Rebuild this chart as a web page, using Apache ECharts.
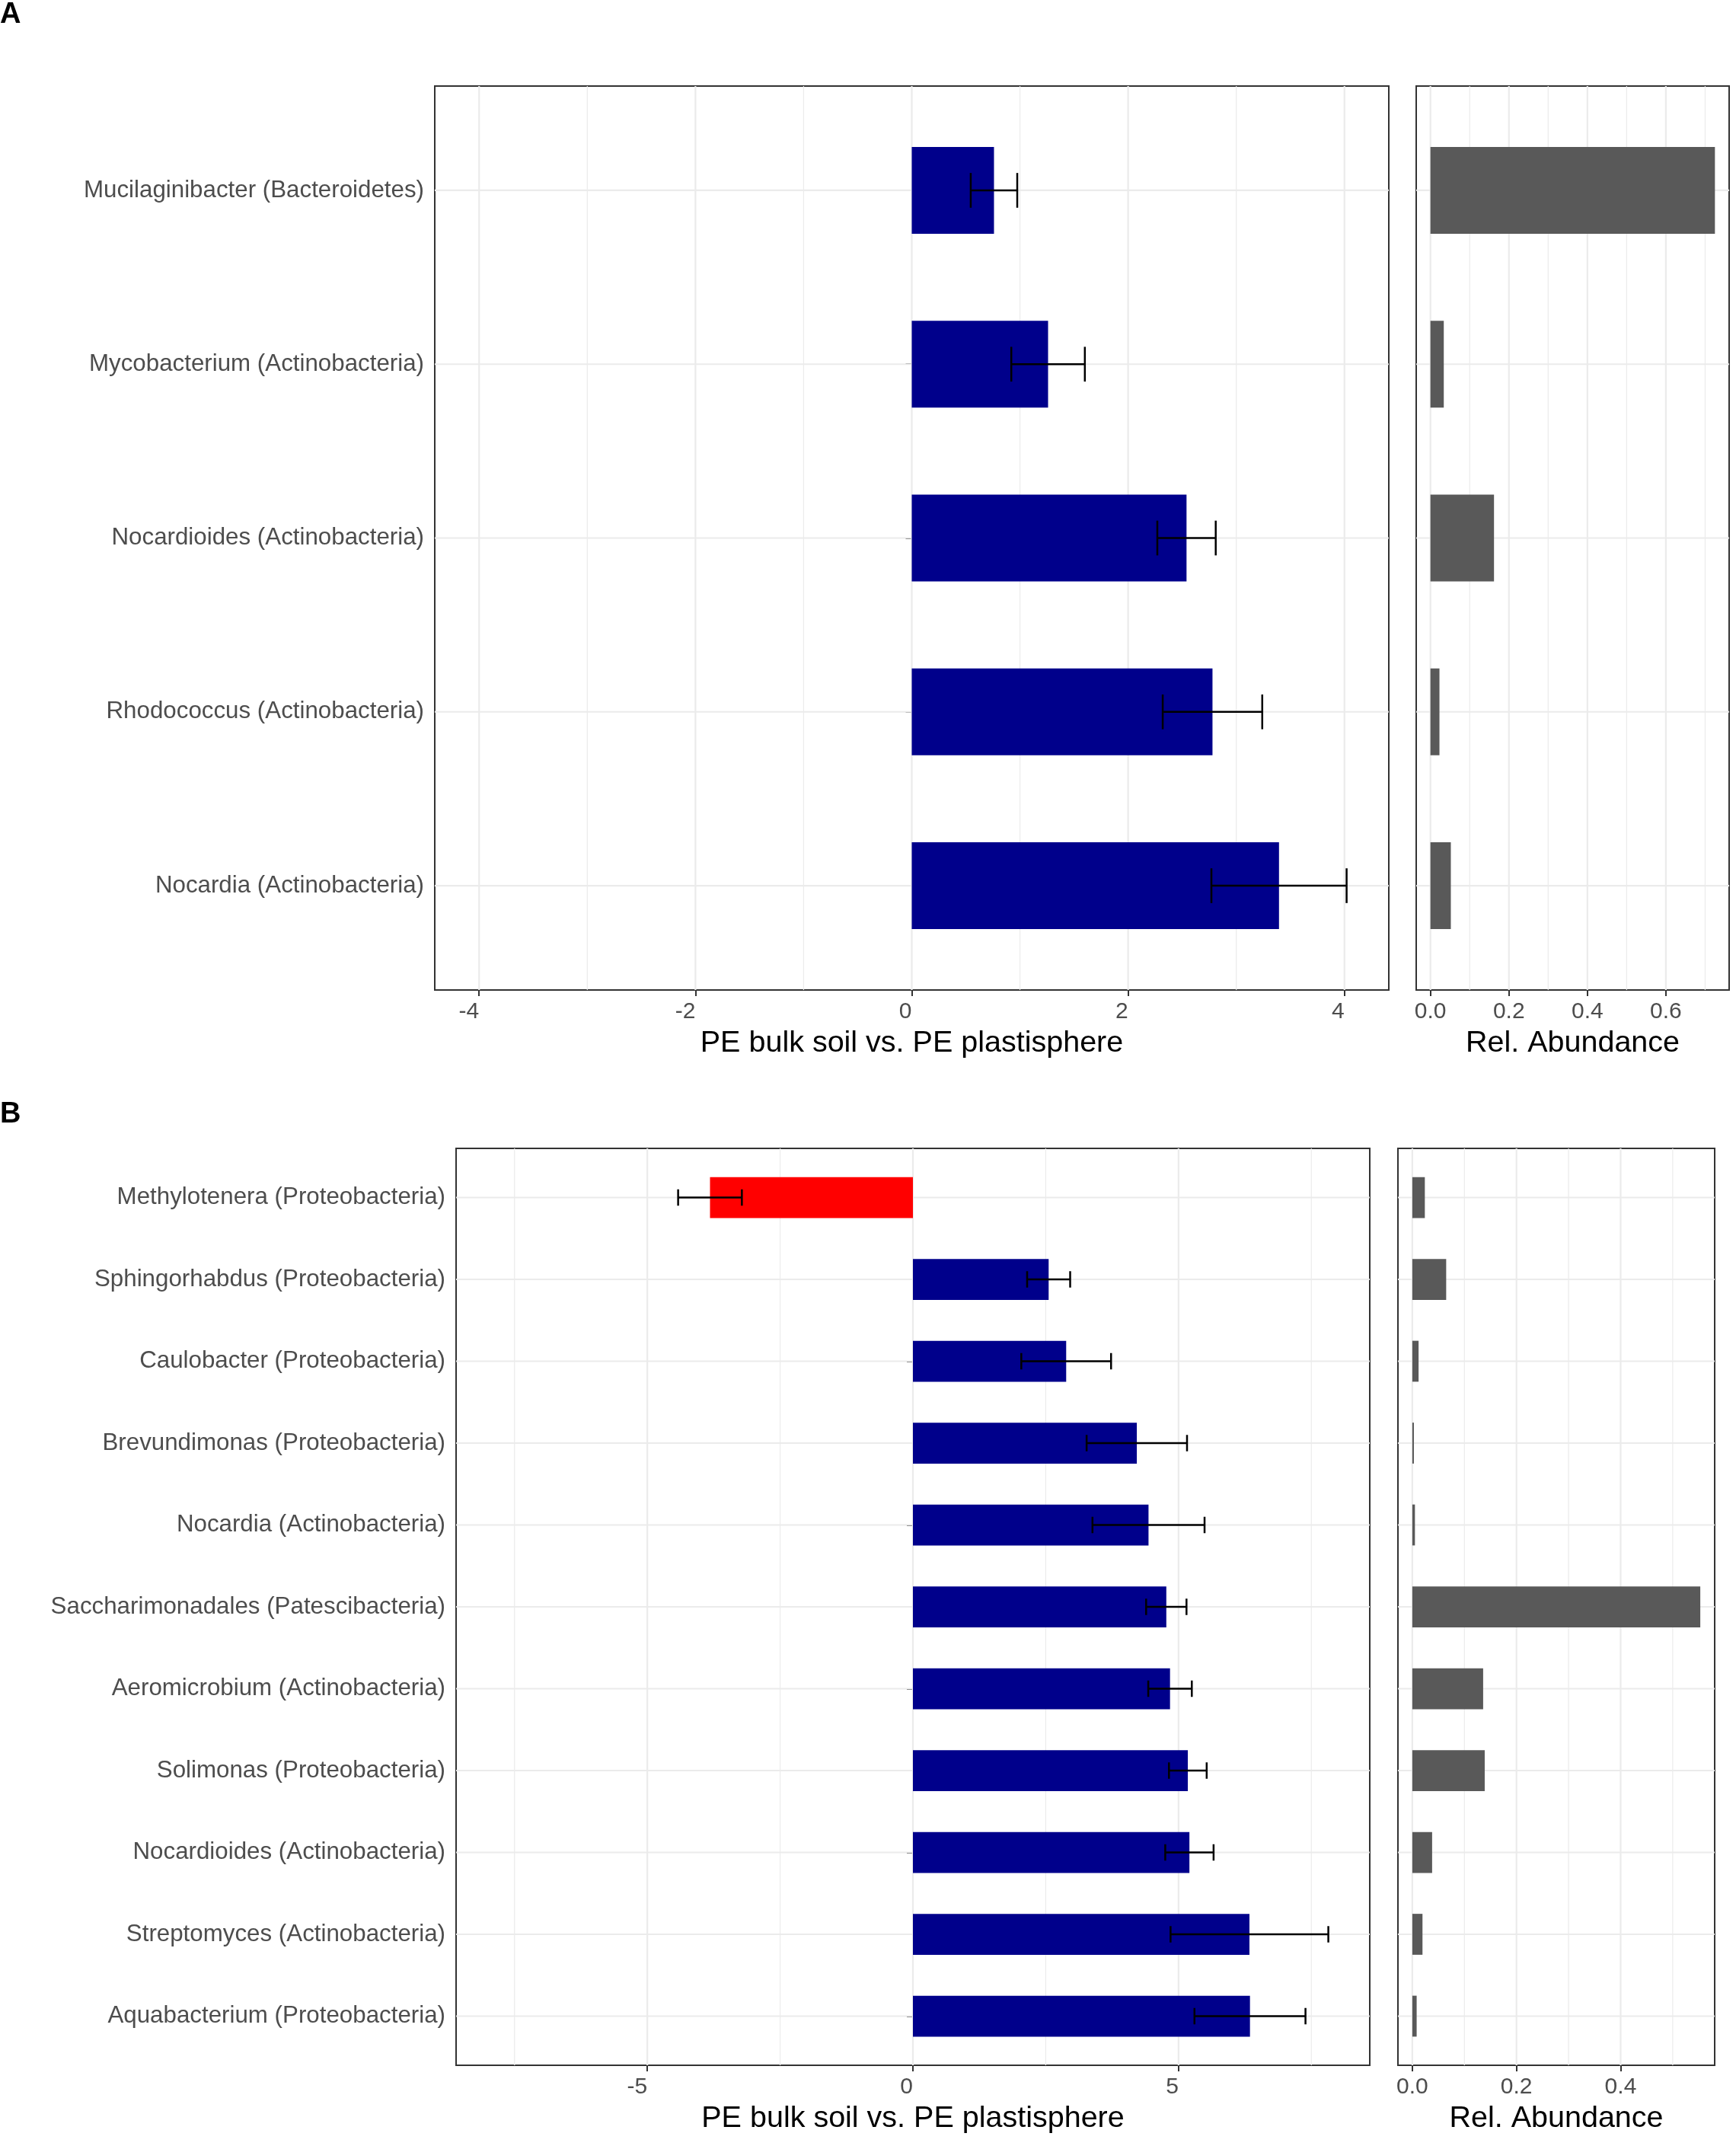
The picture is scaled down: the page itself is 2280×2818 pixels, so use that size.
<!DOCTYPE html>
<html>
<head>
<meta charset="utf-8">
<title>PE bulk soil vs. PE plastisphere</title>
<script src="https://cdn.jsdelivr.net/npm/echarts@6/dist/echarts.min.js"></script>
<style>
  html, body { margin: 0; padding: 0; background: #fff; }
  #chart { width: 2280px; height: 2818px; }
</style>
</head>
<body>
<div id="chart"></div>
<script>
// ---- panel A ----
const taxaA = [
  'Mucilaginibacter (Bacteroidetes)',
  'Mycobacterium (Actinobacteria)',
  'Nocardioides (Actinobacteria)',
  'Rhodococcus (Actinobacteria)',
  'Nocardia (Actinobacteria)'
];
const lfcA = [0.76, 1.26, 2.54, 2.78, 3.395];
const seA = [0.215, 0.34, 0.27, 0.46, 0.625];
const abundA = [0.725, 0.034, 0.162, 0.023, 0.052];

// ---- panel B ----
const taxaB = [
  'Methylotenera (Proteobacteria)',
  'Sphingorhabdus (Proteobacteria)',
  'Caulobacter (Proteobacteria)',
  'Brevundimonas (Proteobacteria)',
  'Nocardia (Actinobacteria)',
  'Saccharimonadales (Patescibacteria)',
  'Aeromicrobium (Actinobacteria)',
  'Solimonas (Proteobacteria)',
  'Nocardioides (Actinobacteria)',
  'Streptomyces (Actinobacteria)',
  'Aquabacterium (Proteobacteria)'
];
const lfcB = [-3.82, 2.555, 2.885, 4.215, 4.435, 4.77, 4.84, 5.175, 5.205, 6.335, 6.345];
const seB = [0.6, 0.405, 0.845, 0.945, 1.055, 0.38, 0.41, 0.355, 0.455, 1.485, 1.045];
const abundB = [0.024, 0.065, 0.012, 0.003, 0.005, 0.553, 0.136, 0.139, 0.038, 0.0195, 0.0083];

// ---- tick labels ----
const lfcTicksA = [-4, -2, 0, 2, 4];
const lfcMinorA = [-3, -1, 1, 3];
const lfcTicksB = [-5, 0, 5];
const lfcMinorB = [-7.5, -2.5, 2.5, 7.5];
const abTicksA = [0, 0.2, 0.4, 0.6];
const abMinorA = [0.1, 0.3, 0.5, 0.7];
const abTicksB = [0, 0.2, 0.4];
const abMinorB = [0.1, 0.3, 0.5];

const FONT = '"Liberation Sans", Arial, Helvetica, sans-serif';
const BAR_W = 0.5;
const CAP_W = 0.2;

const chart = echarts.init(document.getElementById('chart'));

const grids = [
  { left: 571, top: 113, width: 1253, height: 1187 },
  { left: 1860, top: 113, width: 411, height: 1187 },
  { left: 599, top: 1508, width: 1200, height: 1204 },
  { left: 1836, top: 1508, width: 416, height: 1204 }
].map(g => Object.assign(g, {
  show: true, backgroundColor: '#fff', borderColor: '#333333', borderWidth: 2
}));

function xAxisFor(gridIndex, min, max, ticks, fmt, title, align) {
  return {
    type: 'value', gridIndex, min, max,
    axisLine: { show: false },
    splitLine: { show: false },
    axisTick: { show: true, customValues: ticks, length: 8, lineStyle: { color: '#333333', width: 2 } },
    axisLabel: { customValues: ticks, formatter: fmt, align, color: '#4D4D4D', fontSize: 30, fontFamily: FONT, margin: 14 },
    name: title, nameLocation: 'middle', nameGap: 50,
    nameTextStyle: { color: '#000', fontSize: 39.5, fontFamily: FONT }
  };
}

function yAxisFor(gridIndex, names, withLabels) {
  const pos = names.map((_, i) => i + 1);
  return {
    type: 'value', gridIndex, min: 0.4, max: names.length + 0.6, inverse: true,
    axisLine: { show: false },
    splitLine: { show: false },
    axisTick: { show: withLabels, customValues: pos, length: 8, lineStyle: { color: '#333333', width: 2 } },
    axisLabel: {
      show: withLabels, customValues: pos,
      formatter: v => names[Math.round(v) - 1] || '',
      color: '#4D4D4D', fontSize: 31.3, fontFamily: FONT, margin: 14,
      padding: [7, 0, 0, 0]
    }
  };
}

// background grid lines, drawn through the axes
function gridLines(idx, majors, minors, nRows) {
  const data = [];
  majors.forEach(v => data.push([v, 1, 0]));
  minors.forEach(v => data.push([v, 1, 1]));
  for (let i = 1; i <= nRows; i++) data.push([0, i, 2]);
  return {
    type: 'custom', xAxisIndex: idx, yAxisIndex: idx, z: 1, silent: true,
    encode: { x: 0, y: 1 },
    data,
    renderItem(params, api) {
      const cs = params.coordSys;
      const kind = api.value(2);
      if (kind === 2) {
        const y = api.coord([0, api.value(1)])[1];
        return { type: 'line', shape: { x1: cs.x, y1: y, x2: cs.x + cs.width, y2: y },
          style: { stroke: '#EBEBEB', lineWidth: 2.2 } };
      }
      const x = api.coord([api.value(0), 1])[0];
      return { type: 'line', shape: { x1: x, y1: cs.y, x2: x, y2: cs.y + cs.height },
        style: { stroke: '#EBEBEB', lineWidth: kind === 0 ? 2.2 : 1.2 } };
    }
  };
}

function barSeries(idx, values, colorOf) {
  return {
    type: 'custom', xAxisIndex: idx, yAxisIndex: idx, z: 3,
    encode: { x: 0, y: 1 },
    data: values.map((v, i) => [v, i + 1]),
    renderItem(params, api) {
      const v = api.value(0), y = api.value(1);
      const a = api.coord([0, y]), b = api.coord([v, y]);
      const h = api.size([0, BAR_W])[1];
      return { type: 'rect',
        shape: { x: Math.min(a[0], b[0]), y: a[1] - h / 2, width: Math.abs(b[0] - a[0]), height: h },
        style: { fill: colorOf(v) } };
    }
  };
}

function errorSeries(idx, values, se) {
  return {
    type: 'custom', xAxisIndex: idx, yAxisIndex: idx, z: 4,
    encode: { x: [0, 1], y: 2 },
    data: values.map((v, i) => [v - se[i], v + se[i], i + 1]),
    renderItem(params, api) {
      const y = api.value(2);
      const lo = api.coord([api.value(0), y]), hi = api.coord([api.value(1), y]);
      const c = api.size([0, CAP_W])[1] / 2;
      const st = { stroke: '#000', lineWidth: 2.5 };
      return { type: 'group', children: [
        { type: 'line', shape: { x1: lo[0], y1: lo[1], x2: hi[0], y2: hi[1] }, style: st },
        { type: 'line', shape: { x1: lo[0], y1: lo[1] - c, x2: lo[0], y2: lo[1] + c }, style: st },
        { type: 'line', shape: { x1: hi[0], y1: hi[1] - c, x2: hi[0], y2: hi[1] + c }, style: st }
      ] };
    }
  };
}

const lfcColor = v => (v < 0 ? '#FF0000' : '#00008B');
const greyColor = () => '#595959';
const intFmt = v => String(v);
const decFmt = v => v.toFixed(1);

const option = {
  animation: false,
  backgroundColor: '#fff',
  textStyle: { fontFamily: FONT },
  grid: grids,
  xAxis: [
    xAxisFor(0, -4.41, 4.41, lfcTicksA, intFmt, 'PE bulk soil vs. PE plastisphere', 'right'),
    xAxisFor(1, -0.03625, 0.76125, abTicksA, decFmt, 'Rel. Abundance', 'center'),
    xAxisFor(2, -8.6, 8.6, lfcTicksB, intFmt, 'PE bulk soil vs. PE plastisphere', 'right'),
    xAxisFor(3, -0.02765, 0.58065, abTicksB, decFmt, 'Rel. Abundance', 'center')
  ],
  yAxis: [
    yAxisFor(0, taxaA, true),
    yAxisFor(1, taxaA, false),
    yAxisFor(2, taxaB, true),
    yAxisFor(3, taxaB, false)
  ],
  series: [
    gridLines(0, lfcTicksA, lfcMinorA, taxaA.length),
    gridLines(1, abTicksA, abMinorA, taxaA.length),
    gridLines(2, lfcTicksB, lfcMinorB, taxaB.length),
    gridLines(3, abTicksB, abMinorB, taxaB.length),
    barSeries(0, lfcA, lfcColor),
    errorSeries(0, lfcA, seA),
    barSeries(1, abundA, greyColor),
    barSeries(2, lfcB, lfcColor),
    errorSeries(2, lfcB, seB),
    barSeries(3, abundB, greyColor)
  ],
  graphic: [
    { type: 'text', style: { x: 0, y: 20, text: 'A', verticalAlign: 'middle', fill: '#000', font: 'bold 38px ' + FONT } },
    { type: 'text', style: { x: 0, y: 1464, text: 'B', verticalAlign: 'middle', fill: '#000', font: 'bold 38px ' + FONT } }
  ]
};

chart.setOption(option);
</script>
</body>
</html>
